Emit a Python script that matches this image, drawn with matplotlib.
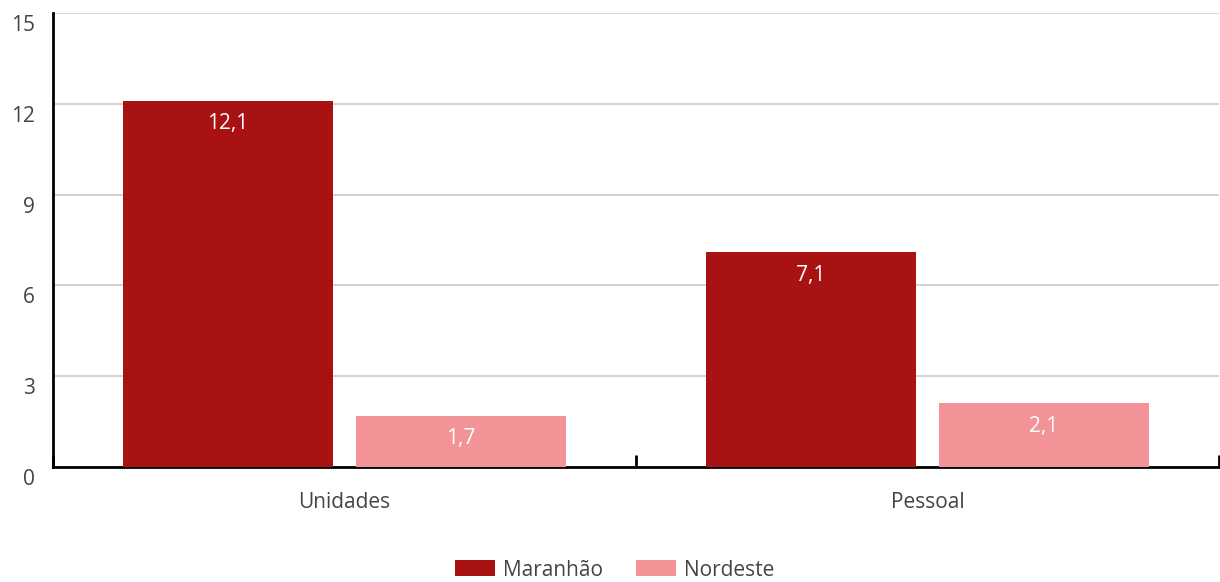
import matplotlib
matplotlib.use("Agg")
import matplotlib.pyplot as plt
import matplotlib.transforms as mtransforms
from matplotlib.patches import Patch
import numpy as np

categories = ["Unidades", "Pessoal"]
series_names = ["Maranhão", "Nordeste"]
maranhao = [12.1, 7.1]
nordeste = [1.7, 2.1]
yticks = [0, 3, 6, 9, 12, 15]
colors = ["#A81212", "#F29398"]

plt.rcParams['font.family'] = ['Open Sans', 'DejaVu Sans']
text_color = "#444444"
fs = 15

fig = plt.figure(figsize=(12.2, 5.82), dpi=100)
ax = fig.add_axes([53/1220, (582-467)/582, 1166/1220, 454/582])

x = np.arange(len(categories))
w = 0.36
off = 0.2
for vals, c, dx in [(maranhao, colors[0], -off), (nordeste, colors[1], off)]:
    bars = ax.bar(x + dx, vals, width=w, color=c, zorder=3)
    for b, v in zip(bars, vals):
        ax.annotate(f"{v:.1f}".replace(".", ","), (b.get_x() + b.get_width()/2, v),
                    xytext=(0, -23), textcoords="offset pixels",
                    ha="center", va="center", color="white", fontsize=fs, zorder=4)

ax.set_xlim(-0.5, 1.5)
ax.set_ylim(0, 15)
ax.set_yticks(yticks)
ax.set_yticklabels([str(t) for t in yticks])
ax.yaxis.grid(True, color="#cccccc", linewidth=1.2, zorder=0)
ax.set_axisbelow(True)

# y tick labels shifted down
ax.tick_params(axis="y", length=0, pad=13, labelsize=fs, labelcolor=text_color)
offset = mtransforms.ScaledTranslation(0, -10/100, fig.dpi_scale_trans)
for lab in ax.get_yticklabels():
    lab.set_transform(lab.get_transform() + offset)

# x ticks at boundaries
ax.set_xticks([-0.5, 0.5, 1.5])
ax.set_xticklabels([])
ax.set_xticks(x, minor=True)
ax.set_xticklabels(categories, minor=True)
ax.tick_params(axis="x", which="major", direction="in", length=9, width=2, color="black")
ax.tick_params(axis="x", which="minor", length=0, pad=18, labelsize=fs, labelcolor=text_color)

for s in ["top", "right"]:
    ax.spines[s].set_visible(False)
ax.spines["left"].set_linewidth(2)
ax.spines["bottom"].set_linewidth(2)
ax.spines["left"].set_color("black")
ax.spines["bottom"].set_color("black")

handles = [Patch(facecolor=c, label=n) for c, n in zip(colors, series_names)]
leg = fig.legend(handles=handles, loc="center", bbox_to_anchor=(615/1220, 1 - 570/582),
                 ncol=2, frameon=False, fontsize=fs, handlelength=1.9, handleheight=0.8,
                 handletextpad=0.4, columnspacing=1.6, labelcolor=text_color)

fig.savefig("out.png", dpi=100)
